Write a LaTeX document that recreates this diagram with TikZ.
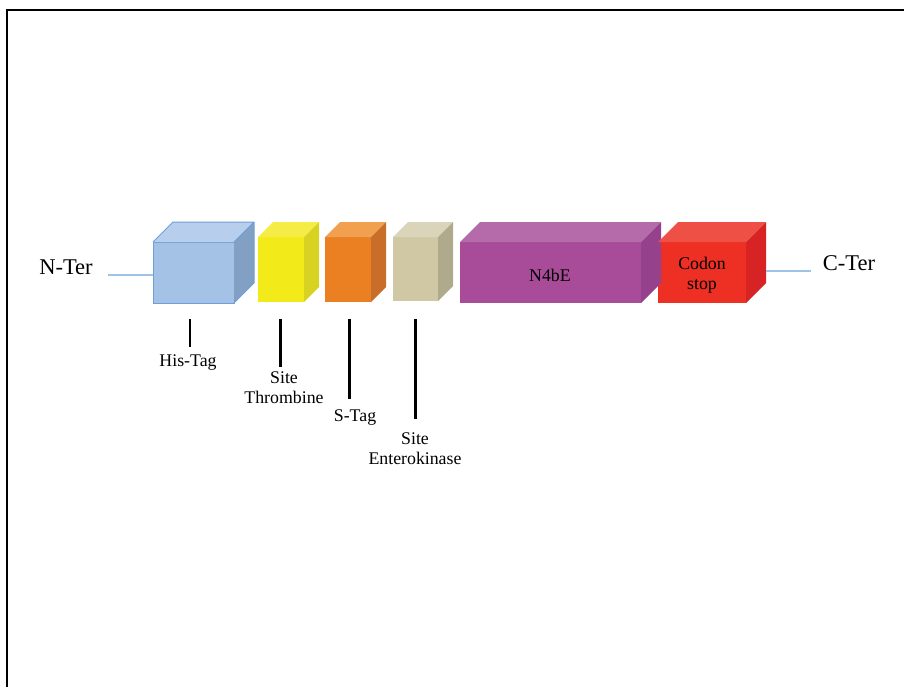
\documentclass[tikz,border=0pt]{standalone}
\usepackage{fontspec}
\setmainfont{Liberation Serif}
\usetikzlibrary{positioning}

\definecolor{hisF}{RGB}{163,194,229}
\definecolor{hisT}{RGB}{183,207,236}
\definecolor{hisS}{RGB}{130,160,196}
\definecolor{hisE}{RGB}{110,160,215}
\definecolor{thrF}{RGB}{243,234,26}
\definecolor{thrT}{RGB}{245,236,70}
\definecolor{thrS}{RGB}{216,210,35}
\definecolor{stagF}{RGB}{235,128,35}
\definecolor{stagT}{RGB}{241,160,80}
\definecolor{stagS}{RGB}{200,110,40}
\definecolor{entF}{RGB}{208,200,165}
\definecolor{entT}{RGB}{218,212,186}
\definecolor{entS}{RGB}{175,170,140}
\definecolor{nbeF}{RGB}{168,76,154}
\definecolor{nbeT}{RGB}{181,106,170}
\definecolor{nbeS}{RGB}{150,65,140}
\definecolor{stopF}{RGB}{237,47,36}
\definecolor{stopT}{RGB}{239,80,70}
\definecolor{stopS}{RGB}{215,35,35}
\definecolor{linkblue}{RGB}{157,195,230}

\begin{document}
\begin{tikzpicture}[x=1pt,y=-1pt,
    face/.style={rectangle,inner sep=0pt,outer sep=0pt},
    tick/.style={line width=2.3pt},
    lab/.style={font=\fontsize{17.8}{20}\selectfont,align=center,inner sep=0pt,anchor=north},
    term/.style={font=\fontsize{22.5}{24}\selectfont,inner sep=0pt},
    inner/.style={font=\fontsize{17.8}{20}\selectfont,align=center,inner sep=0pt},
    link/.style={draw=linkblue,line width=2.4pt}]
  \useasboundingbox (0,0) rectangle (904,686);
  \draw[line width=1.2pt] (7,10) rectangle (920,700);

  % front faces
  \node[face,fill=hisF,draw=hisE,line width=1pt,minimum width=81pt,minimum height=61pt] (his) at (193.5,272.5) {};
  \node[face,fill=thrF,minimum width=46pt,minimum height=65pt] (thr) at (281,269.5) {};
  \node[face,fill=stagF,minimum width=46pt,minimum height=65pt] (stag) at (348,269.5) {};
  \node[face,fill=entF,minimum width=45pt,minimum height=64pt] (ent) at (415.5,269) {};
  \node[face,fill=nbeF,minimum width=181pt,minimum height=61pt] (nbe) at (550.5,272.5) {};
  \node[face,fill=stopF,minimum width=88pt,minimum height=61pt] (stop) at (702,272.5) {};

  % top and side faces
  \foreach \n/\d in {his/20,thr/15,stag/15,ent/15,nbe/20,stop/20} {
    \fill[\n T] (\n.north west) -- (\n.north east) -- ++(\d,-\d)
      -- ([shift={(\d,-\d)}]\n.north west) -- cycle;
    \fill[\n S] (\n.north east) -- ++(\d,-\d)
      -- ([shift={(\d,-\d)}]\n.south east) -- (\n.south east) -- cycle;
  }
  \draw[hisE,line width=1pt,line join=round] (his.north west) -- ++(20,-20) -- ++(81,0) -- ++(0,61)
    -- (his.south east) (his.north east) -- ++(20,-20);

  \node[inner] (nbeL) at (550,275) {N4bE};
  \node[inner,anchor=north] (stopL) at (702,257) {Codon\\stop};

  % termini
  \node[term] (nter) at (66,267.5) {N-Ter};
  \node[term] (cter) at (849,263.5) {C-Ter};
  \coordinate (nEnd) at (108,275);
  \coordinate (cEnd) at (811,271);
  \draw[link] (nEnd) -- (his.west |- nEnd);
  \draw[link] ([xshift=20pt]stop.east |- cEnd) -- (cEnd);

  % ticks and labels
  \coordinate (hisA) at (190,319);    \coordinate (hisB) at (190,347);
  \coordinate (thrA) at (280.5,319);  \coordinate (thrB) at (280.5,367);
  \coordinate (stagA) at (349.5,319); \coordinate (stagB) at (349.5,399);
  \coordinate (entA) at (415.5,319);  \coordinate (entB) at (415.5,419);
  \foreach \n in {his,thr,stag,ent}
    \draw[tick] (\n A) -- (\n B);
  \node[lab] (hisL) at (188,354.5) {His-Tag};
  \node[lab] (thrL) at (284,371.5) {Site\\Thrombine};
  \node[lab] (stagL) at (355,409.5) {S-Tag};
  \node[lab] (entL) at (415,432.5) {Site\\Enterokinase};
\end{tikzpicture}
\end{document}
